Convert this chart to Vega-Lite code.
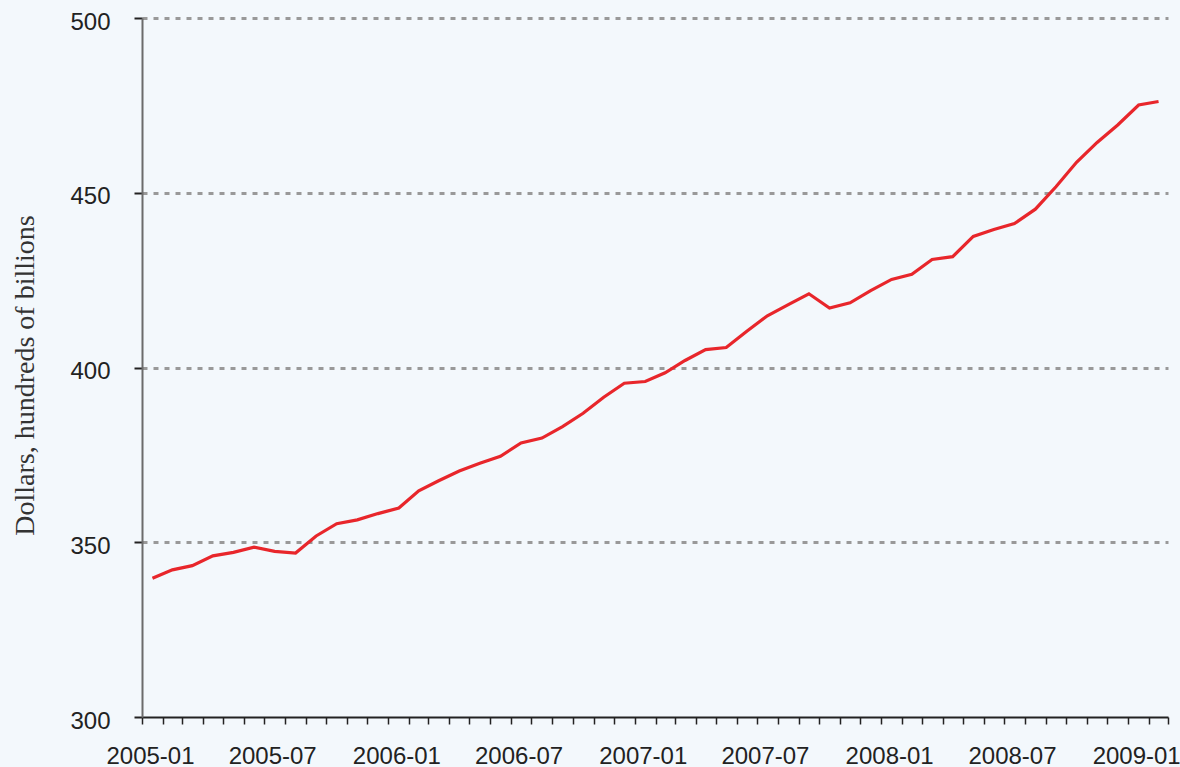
{
  "$schema": "https://vega.github.io/schema/vega-lite/v6.json",
  "width": 1026,
  "height": 699,
  "autosize": "none",
  "padding": {"left": 142, "top": 18, "right": 12, "bottom": 50},
  "background": "#f3f8fc",
  "config": {"view": {"stroke": null}},
  "data": {
    "values": [
      {"month": "2005-01", "value": 339.7},
      {"month": "2005-02", "value": 342.1},
      {"month": "2005-03", "value": 343.3},
      {"month": "2005-04", "value": 346.1},
      {"month": "2005-05", "value": 347.1},
      {"month": "2005-06", "value": 348.6},
      {"month": "2005-07", "value": 347.4},
      {"month": "2005-08", "value": 346.9},
      {"month": "2005-09", "value": 351.8},
      {"month": "2005-10", "value": 355.3},
      {"month": "2005-11", "value": 356.4},
      {"month": "2005-12", "value": 358.2},
      {"month": "2006-01", "value": 359.8},
      {"month": "2006-02", "value": 364.7},
      {"month": "2006-03", "value": 367.6},
      {"month": "2006-04", "value": 370.4},
      {"month": "2006-05", "value": 372.6},
      {"month": "2006-06", "value": 374.6},
      {"month": "2006-07", "value": 378.4},
      {"month": "2006-08", "value": 379.8},
      {"month": "2006-09", "value": 383.1},
      {"month": "2006-10", "value": 386.9},
      {"month": "2006-11", "value": 391.5},
      {"month": "2006-12", "value": 395.5},
      {"month": "2007-01", "value": 396.0},
      {"month": "2007-02", "value": 398.5},
      {"month": "2007-03", "value": 402.0},
      {"month": "2007-04", "value": 405.1},
      {"month": "2007-05", "value": 405.7},
      {"month": "2007-06", "value": 410.4},
      {"month": "2007-07", "value": 414.8},
      {"month": "2007-08", "value": 418.0},
      {"month": "2007-09", "value": 421.1},
      {"month": "2007-10", "value": 417.0},
      {"month": "2007-11", "value": 418.5},
      {"month": "2007-12", "value": 422.0},
      {"month": "2008-01", "value": 425.2},
      {"month": "2008-02", "value": 426.7},
      {"month": "2008-03", "value": 430.9},
      {"month": "2008-04", "value": 431.7},
      {"month": "2008-05", "value": 437.5},
      {"month": "2008-06", "value": 439.5},
      {"month": "2008-07", "value": 441.2},
      {"month": "2008-08", "value": 445.3},
      {"month": "2008-09", "value": 451.7},
      {"month": "2008-10", "value": 458.7},
      {"month": "2008-11", "value": 464.4},
      {"month": "2008-12", "value": 469.4},
      {"month": "2009-01", "value": 475.1},
      {"month": "2009-02", "value": 476.1}
    ]
  },
  "mark": {"type": "line", "color": "#e8262b", "strokeWidth": 3.2},
  "encoding": {
    "x": {
      "field": "month",
      "type": "temporal",
      "timeUnit": "utcyearmonth",
      "bandPosition": 0.5,
      "scale": {
        "domain": [
          {"year": 2005, "month": 1, "date": 1, "utc": true},
          {"year": 2009, "month": 3, "date": 1, "utc": true}
        ]
      },
      "axis": {
        "title": null,
        "grid": false,
        "tickCount": {"interval": "month", "step": 1},
        "labelExpr": "utcmonth(datum.value) % 6 == 0 ? utcFormat(datum.value, '%Y-%m') : ''",
        "labelOverlap": false,
        "labelFlush": false,
        "labelOffset": 8,
        "labelPadding": 20,
        "labelFont": "Liberation Sans",
        "labelFontSize": 24,
        "labelColor": "#222222",
        "tickSize": 7,
        "tickWidth": 1.5,
        "tickColor": "#222222",
        "domainColor": "#222222",
        "domainWidth": 2
      }
    },
    "y": {
      "field": "value",
      "type": "quantitative",
      "scale": {"domain": [300, 500], "nice": false, "zero": false},
      "axis": {
        "title": "Dollars, hundreds of billions",
        "titleFont": "Liberation Serif",
        "titleFontSize": 28,
        "titleFontWeight": "normal",
        "titleColor": "#333333",
        "titleAngle": -90,
        "titleAlign": "center",
        "titleBaseline": "alphabetic",
        "titleX": -109,
        "titleY": 357,
        "values": [300, 350, 400, 450, 500],
        "grid": true,
        "gridDash": [5, 6],
        "gridColor": "#999999",
        "gridWidth": 3,
        "gridOpacity": {"condition": {"test": "datum.value == 300", "value": 0}, "value": 1},
        "tickSize": 8,
        "tickWidth": 2,
        "tickColor": "#222222",
        "domainColor": "#6b6b6b",
        "domainWidth": 2,
        "labelFont": "Liberation Sans",
        "labelFontSize": 24,
        "labelColor": "#222222",
        "labelPadding": 24,
        "labelOffset": 4
      }
    }
  }
}
